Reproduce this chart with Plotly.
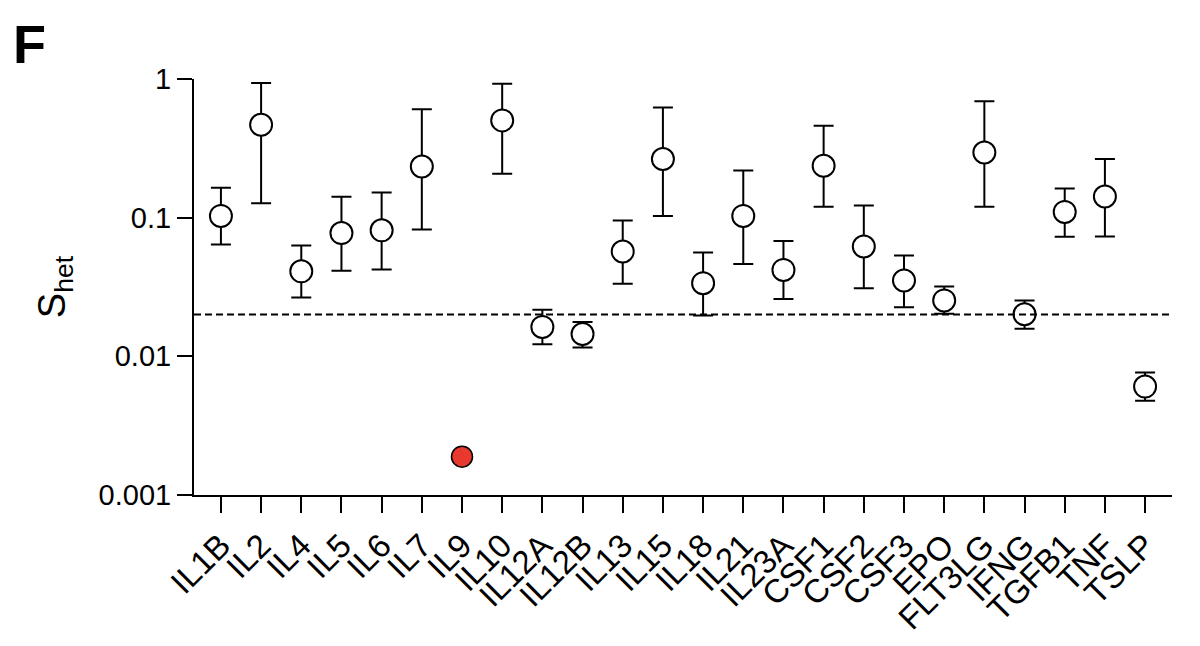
import plotly.graph_objects as go

# genes along the x axis
genes = ["IL1B", "IL2", "IL4", "IL5", "IL6", "IL7", "IL9", "IL10", "IL12A", "IL12B",
         "IL13", "IL15", "IL18", "IL21", "IL23A", "CSF1", "CSF2", "CSF3", "EPO",
         "FLT3LG", "IFNG", "TGFB1", "TNF", "TSLP"]

# s_het point estimates (IL9 is drawn separately in red)
shet = [0.103, 0.468, 0.041, 0.0774, 0.081, 0.234, 0.00189, 0.503, 0.0163, 0.0145,
        0.057, 0.265, 0.0337, 0.103, 0.042, 0.237, 0.062, 0.0352, 0.0253,
        0.295, 0.0201, 0.110, 0.142, 0.00605]

# upper / lower bounds of the intervals (None for IL9, no interval shown)
shet_hi = [0.164, 0.935, 0.063, 0.1415, 0.152, 0.604, None, 0.925, 0.0217, 0.0177,
           0.0955, 0.624, 0.0561, 0.219, 0.0678, 0.46, 0.1225, 0.0534, 0.0319,
           0.69, 0.0253, 0.1625, 0.265, 0.00764]
shet_lo = [0.064, 0.127, 0.0266, 0.0414, 0.0423, 0.082, None, 0.207, 0.0122, 0.0116,
           0.0334, 0.103, 0.0197, 0.0463, 0.0259, 0.120, 0.031, 0.0226, 0.0203,
           0.120, 0.0158, 0.0728, 0.0732, 0.00478]

threshold = 0.02
highlight = "IL9"

ytick_vals = [0.001, 0.01, 0.1, 1]
ytick_text = ["0.001", "0.01", "0.1", "1"]

FONT = "Liberation Sans, Arial, sans-serif"

# split into open circles and the highlighted gene
xs, ys, up, dn = [], [], [], []
for g, v, hi, lo in zip(genes, shet, shet_hi, shet_lo):
    if g == highlight:
        continue
    xs.append(g)
    ys.append(v)
    up.append(hi - v)
    dn.append(v - lo)

fig = go.Figure()

fig.add_trace(go.Scatter(
    x=xs, y=ys, mode="markers",
    marker=dict(symbol="circle", size=22, color="white",
                line=dict(color="black", width=2)),
    error_y=dict(type="data", symmetric=False, array=up, arrayminus=dn,
                 color="black", thickness=2, width=10),
    showlegend=False,
))

hx = genes.index(highlight)
fig.add_trace(go.Scatter(
    x=[highlight], y=[shet[hx]], mode="markers",
    marker=dict(symbol="circle", size=21, color="#e8392f",
                line=dict(color="black", width=1.5)),
    showlegend=False,
))

# dashed threshold line
fig.add_shape(type="line", xref="paper", yref="y", x0=0, x1=1,
              y0=threshold, y1=threshold,
              line=dict(color="black", width=2, dash="7px,4px"))

# panel letter
fig.add_annotation(text="<b>F</b>", xref="paper", yref="paper",
                   x=-0.187, y=1.16, xanchor="left", yanchor="top",
                   showarrow=False, font=dict(family=FONT, size=54, color="black"))

# page body adds an 8px offset, so the figure is 8px smaller than the window
fig.update_layout(
    width=1192, height=638,
    margin=dict(l=186, r=28, t=71, b=151, autoexpand=False),
    plot_bgcolor="white", paper_bgcolor="white",
    font=dict(family=FONT, color="black"),
    xaxis=dict(
        type="category", categoryorder="array", categoryarray=genes,
        range=[-0.67, len(genes) - 1 + 0.67], automargin=False,
        showline=True, linecolor="black", linewidth=2,
        ticks="outside", ticklen=16, tickwidth=2, tickcolor="black",
        tickangle=-45, tickfont=dict(size=33, family=FONT),
        showgrid=False, zeroline=False,
    ),
    yaxis=dict(
        type="log", range=[-3, 0], automargin=False,
        tickvals=ytick_vals, ticktext=ytick_text,
        showline=True, linecolor="black", linewidth=2,
        ticks="outside", ticklen=15, tickwidth=2, tickcolor="black",
        tickfont=dict(size=29, family=FONT),
        showgrid=False, zeroline=False,
        title=dict(text="S<sub>het</sub>", font=dict(size=38, family=FONT),
                   standoff=21),
    ),
)

fig.write_html("out.html")
